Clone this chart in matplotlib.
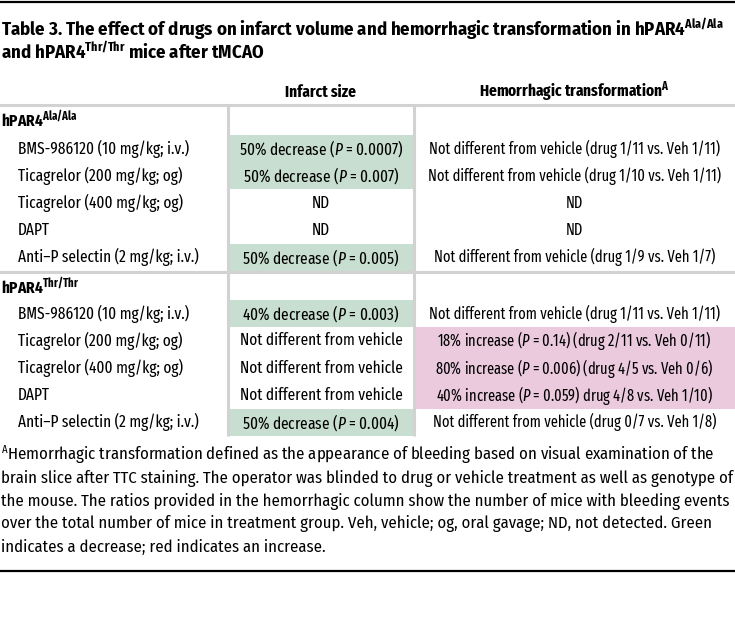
import matplotlib
matplotlib.use("Agg")
import matplotlib.pyplot as plt
from matplotlib.patches import Rectangle

COND = 'Fira Sans Condensed'
XCOND = 'Fira Sans Extra Condensed'
plt.rcParams['font.family'] = [COND, 'DejaVu Sans']
plt.rcParams['mathtext.fontset'] = 'custom'
plt.rcParams['mathtext.rm'] = XCOND
plt.rcParams['mathtext.it'] = XCOND + ':italic'
plt.rcParams['mathtext.bf'] = XCOND + ':bold'

# ---- table content ----
title_lines = [r"Table 3. The effect of drugs on infarct volume and hemorrhagic transformation in hPAR4$^{\mathbf{Ala/Ala}}$",
               r"and hPAR4$^{\mathbf{Thr/Thr}}$ mice after tMCAO"]
col_heads = ["Infarct size", r"Hemorrhagic transformation$^{\mathbf{A}}$"]
genotypes = [r"hPAR4$^{\mathbf{Ala/Ala}}$", r"hPAR4$^{\mathbf{Thr/Thr}}$"]
drugs = ["BMS-986120 (10 mg/kg; i.v.)", "Ticagrelor (200 mg/kg; og)",
         "Ticagrelor (400 mg/kg; og)", "DAPT", "Anti–P selectin (2 mg/kg; i.v.)"]

infarct_ala = [r"50% decrease ($\mathit{P}$ = 0.0007)", r"50% decrease ($\mathit{P}$ = 0.007)",
               "ND", "ND", r"50% decrease ($\mathit{P}$ = 0.005)"]
hemo_ala = ["Not different from vehicle (drug 1/11 vs. Veh 1/11)",
            "Not different from vehicle (drug 1/10 vs. Veh 1/11)",
            "ND", "ND",
            "Not different from vehicle (drug 1/9 vs. Veh 1/7)"]
infarct_thr = [r"40% decrease ($\mathit{P}$ = 0.003)", "Not different from vehicle",
               "Not different from vehicle", "Not different from vehicle",
               r"50% decrease ($\mathit{P}$ = 0.004)"]
hemo_thr = ["Not different from vehicle (drug 1/11 vs. Veh 1/11)",
            r"18% increase ($\mathit{P}$ = 0.14) (drug 2/11 vs. Veh 0/11)",
            r"80% increase ($\mathit{P}$ = 0.006) (drug 4/5 vs. Veh 0/6)",
            r"40% increase ($\mathit{P}$ = 0.059) drug 4/8 vs. Veh 1/10)",
            "Not different from vehicle (drug 0/7 vs. Veh 1/8)"]
# -1 decrease, +1 increase, 0 none
infarct_eff = [[-1, -1, 0, 0, -1], [-1, 0, 0, 0, -1]]
hemo_eff = [[0, 0, 0, 0, 0], [0, 1, 1, 1, 0]]

footnote = [r"$^{\mathrm{A}}$Hemorrhagic transformation defined as the appearance of bleeding based on visual examination of the",
            "brain slice after TTC staining. The operator was blinded to drug or vehicle treatment as well as genotype of",
            "the mouse. The ratios provided in the hemorrhagic column show the number of mice with bleeding events",
            "over the total number of mice in treatment group. Veh, vehicle; og, oral gavage; ND, not detected. Green",
            "indicates a decrease; red indicates an increase."]

GREEN = '#c8ded0'
PINK = '#ebcade'
GRAY = '#d2d2d2'
colors = {-1: GREEN, 1: PINK}

fig = plt.figure(figsize=(7.35, 6.44), dpi=100)
ax = fig.add_axes([0, 0, 1, 1])
ax.set_xlim(0, 735)
ax.set_ylim(644, 0)
ax.axis('off')

W = 735
c1, c2 = 228, 414
fs = 12
fs_hemo = 11.3
body = [XCOND, 'DejaVu Sans']

ax.axhline(1.5, color='black', lw=1.6)
for i, t in enumerate(title_lines):
    ax.text(1, 29 + 23 * i, t, fontsize=13.5, fontweight='bold', va='center', ha='left')

ax.text((c1 + c2) / 2, 92, col_heads[0], fontsize=fs, family=body, fontweight='bold', ha='center', va='center')
ax.text((c2 + W) / 2, 92, col_heads[1], fontsize=fs, family=body, fontweight='bold', ha='center', va='center')
ax.axhline(104.5, color=GRAY, lw=2.2)

rh = 27.2
top = 105
group_infarct = [infarct_ala, infarct_thr]
group_hemo = [hemo_ala, hemo_thr]
for g in range(2):
    ax.text(1, top + 15, genotypes[g], fontsize=fs, family=body, fontweight='bold', va='center')
    y0 = top + 30 if g == 0 else top + 28
    for i, d in enumerate(drugs):
        yc = y0 + rh * i + rh / 2
        e1 = infarct_eff[g][i]
        e2 = hemo_eff[g][i]
        if e1:
            ax.add_patch(Rectangle((c1 + 1, y0 + rh * i), c2 - c1 - 2, rh, color=colors[e1], lw=0))
        if e2:
            ax.add_patch(Rectangle((c2 + 1.5, y0 + rh * i), W - c2, rh, color=colors[e2], lw=0))
        ax.text(18, yc, d, fontsize=fs, family=body, va='center')
        ax.text((c1 + c2) / 2, yc, group_infarct[g][i], fontsize=fs, family=body, ha='center', va='center')
        ax.text((c2 + W) / 2, yc, group_hemo[g][i], fontsize=fs_hemo, family=body, ha='center', va='center')
    top = y0 + rh * 5
    if g == 0:
        ax.axhline(top + 0.5, color=GRAY, lw=2.2)
        top += 1

ax.vlines([c1, c2], 105, top, color=GRAY, lw=2.2)

for i, t in enumerate(footnote):
    ax.text(1, 455 + 23 * i, t, fontsize=fs, va='center', ha='left')

ax.axhline(571, color='black', lw=1.6)

fig.savefig('out.png', dpi=100)
